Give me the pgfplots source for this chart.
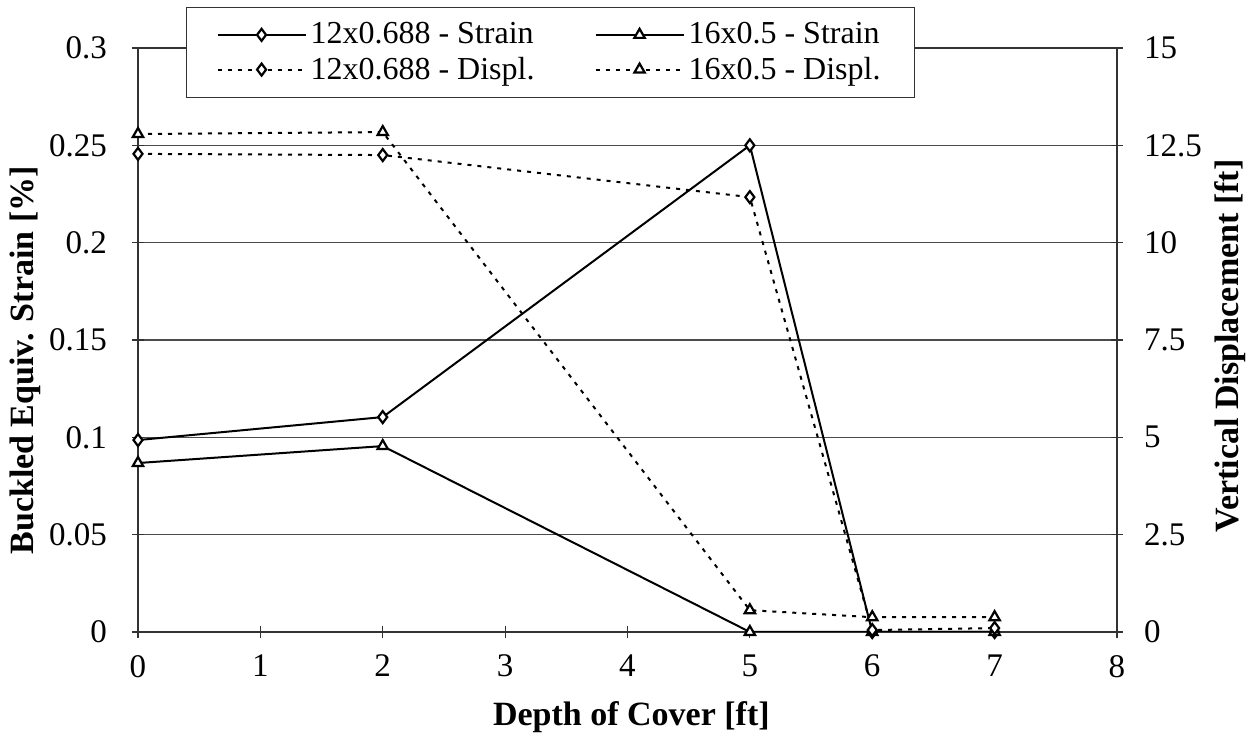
\documentclass[border=0pt]{standalone}
\usepackage{pgfplots}
\pgfplotsset{compat=1.18}
\usepackage{fontspec}
\setmainfont{Liberation Serif}
\begin{document}
\begin{tikzpicture}[x=1pt,y=1pt]
\useasboundingbox (0,0) rectangle (627,366.5);
\pgfplotsset{
  common/.style={
    scale only axis, width=489.5pt, height=292pt,
    at={(69pt,50.5pt)}, anchor=south west,
    xmin=0, xmax=8,
    tick align=center, major tick length=6pt,
    axis line style={black!80, line width=0.6pt},
    tick style={black!80, line width=0.6pt},
    /pgf/number format/assume math mode=true,
    ticklabel style={font=\fontsize{16.5}{18}\selectfont},
    label style={font=\fontsize{17}{19}\selectfont\bfseries},
  },
  strain/.style={black, line width=1pt, mark size=3pt, mark options={solid, fill=white, line width=1.1pt}},
  displ/.style={black, line width=1pt, dash pattern=on 2pt off 3pt, mark size=3pt, mark options={solid, fill=white, line width=1.1pt}},
}
\begin{axis}[common,
  xtick={0,1,...,8},
  ymin=0, ymax=0.3, ytick={0,0.05,...,0.3},
  yticklabels={0,0.05,0.1,0.15,0.2,0.25,0.3},
  yticklabel style={xshift=-9pt},
  xticklabel style={yshift=-5pt},
  ymajorgrids, grid style={black!70, line width=0.6pt},
  xlabel={Depth of Cover [ft]},
  ylabel={Buckled Equiv. Strain [\%]},
  xlabel style={at={(axis description cs:0.504,0)}, anchor=center, yshift=-42.5pt},
  ylabel style={at={(axis description cs:-0.1154,0.465)}, anchor=center, rotate=0},
  axis y line*=left, axis x line*=bottom,
]
\addplot[strain, mark=diamond*] coordinates {(0,0.0986) (2,0.1104) (5,0.250) (6,0) (7,0)};
\addplot[strain, mark=triangle*] coordinates {(0,0.0868) (2,0.0955) (5,0) (6,0) (7,0)};
\end{axis}
\begin{axis}[common,
  xtick=\empty,
  ymin=0, ymax=15, ytick={0,2.5,...,15},
  yticklabels={0,2.5,5,7.5,10,12.5,15},
  yticklabel style={xshift=7pt},
  axis y line*=right, axis x line*=top,
  ylabel={Vertical Displacement [ft]},
  ylabel style={at={(axis description cs:1.1154,0.49)}, anchor=center},
  legend columns=2,
  legend style={at={(0.0490,1.070)}, anchor=north west, draw=black!80, line width=0.6pt,
    fill=white, font=\fontsize{16}{18}\selectfont, inner xsep=15pt, inner ysep=5.5pt, row sep=1pt,
    /tikz/every even column/.append style={column sep=28pt}},
  legend cell align=left,
  legend image code/.code={\draw[mark repeat=2, mark phase=2, #1] plot coordinates {(0pt,0pt) (22pt,0pt) (44pt,0pt)};},
]
\addlegendimage{strain, mark=diamond*}
\addlegendentry{12x0.688 - Strain}
\addlegendimage{strain, mark=triangle*}
\addlegendentry{16x0.5 - Strain}
\addplot[displ, mark=diamond*] coordinates {(0,12.28) (2,12.25) (5,11.17) (6,0.05) (7,0.1)};
\addlegendentry{12x0.688 - Displ.}
\addplot[displ, mark=triangle*] coordinates {(0,12.79) (2,12.84) (5,0.56) (6,0.38) (7,0.38)};
\addlegendentry{16x0.5 - Displ.}
\end{axis}
\end{tikzpicture}
\end{document}
